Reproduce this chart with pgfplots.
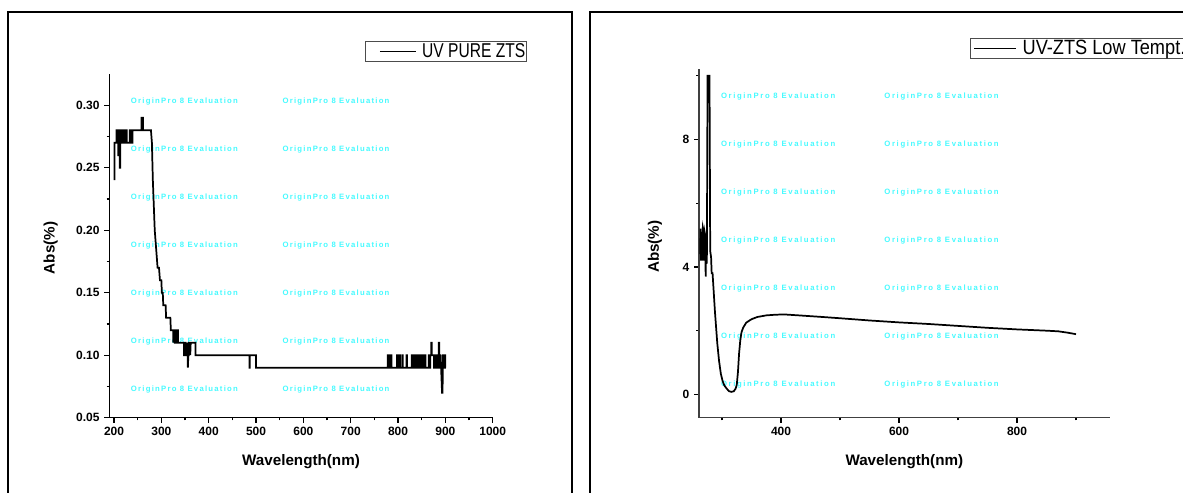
\documentclass[border=0pt]{standalone}
\usepackage{pgfplots}
\pgfplotsset{compat=1.18}
\usepackage{fontspec}
\setmainfont{Liberation Sans}
\newfontfamily\wmA[LetterSpace=16]{Liberation Sans}
\newfontfamily\wmB[LetterSpace=21]{Liberation Sans}
\newfontfamily\legA[FakeStretch=0.78]{Liberation Sans}
\newfontfamily\legB[FakeStretch=0.88]{Liberation Sans}
\definecolor{wm}{RGB}{70,250,255}

\pgfplotsset{origin/.style={
  scale only axis, axis lines=left, axis line style={-, line width=1.1pt},
  tick align=outside, major tick length=3.75pt, minor tick length=2pt,
  tick style={line width=0.9pt, black},
  tick label style={font=\bfseries\fontsize{9}{10}\selectfont},
  /pgf/number format/assume math mode=true,
  /pgf/number format/1000 sep={},
  label style={font=\bfseries\fontsize{11.4}{13}\selectfont},
  legend style={draw=black!70, line width=0.7pt, inner xsep=0pt, inner ysep=0.5pt,
    nodes={inner sep=1pt}, column sep=3pt},
  legend cell align=left,
}}

\begin{document}
\begin{tikzpicture}[x=0.75pt,y=0.75pt]
\useasboundingbox (0,0) rectangle (1183,493);
\clip (0,0) rectangle (1183,493);
\coordinate (L) at (109.3,75.3);
\coordinate (R) at (699,75.3);
% panel frames
\draw[line width=1.5pt] (7.5,-20) rectangle (572.3,481);
\draw[line width=1.5pt] (590,-20) rectangle (1220,481);
% evaluation watermarks
\foreach \r in {0,...,6} {
  \foreach \c in {130.7,282.3}
    \node[anchor=west, inner sep=0, text=wm, font=\wmA\bfseries\fontsize{5.8}{6}\selectfont]
      at (\c, 493-101.7-48*\r) {OriginPro 8 Evaluation};
  \foreach \c in {720.8,884.2}
    \node[anchor=west, inner sep=0, text=wm, font=\wmB\bfseries\fontsize{5.8}{6}\selectfont]
      at (\c, 493-96.7-48*\r) {OriginPro 8 Evaluation};
}

% left panel
\begin{axis}[origin, at={(L)}, anchor=south west,
  width=287.55pt, height=257.8pt,
  xmin=190, xmax=1000, ymin=0.05, ymax=0.325,
  xtick={200,300,...,1000}, minor x tick num=1,
  ytick={0.05,0.10,0.15,0.20,0.25,0.30}, minor y tick num=1,
  yticklabel style={/pgf/number format/.cd, fixed, fixed zerofill, precision=2},
  xlabel={Wavelength(nm)}, ylabel={Abs(\%)},
  xlabel style={at={(axis description cs:0.5,-0.128)}, anchor=center},
  ylabel style={at={(axis description cs:-0.1526,0.494)}, anchor=center},
  legend style={at={(axis description cs:0.666,1.096)}, anchor=north west,
    font=\legA\fontsize{15}{16}\selectfont},
  legend image code/.code={\path (0pt,0pt); \draw[#1] (10.5pt,0pt) -- (37.5pt,0pt);},
]
\addplot[black, line width=1.3pt] coordinates {
(201,0.24) (201,0.27) (205,0.27) (205,0.28) (206,0.28) (206,0.27) (208,0.27) (208,0.28)
(209,0.28) (209,0.26) (210,0.26) (210,0.28) (211,0.28) (211,0.26) (212,0.26) (212,0.25)
(213,0.25) (213,0.28) (214,0.28) (214,0.27) (218,0.27) (218,0.28) (219,0.28) (219,0.27)
(222,0.27) (222,0.28) (223,0.28) (223,0.27) (226,0.27) (226,0.28) (227,0.28) (227,0.27)
(233,0.27) (233,0.28) (234,0.28) (234,0.27) (235,0.27) (235,0.28) (236,0.28) (236,0.27)
(237,0.27) (237,0.28) (238,0.28) (238,0.27) (239,0.27) (239,0.28) (258,0.28) (258,0.29)
(261,0.29) (261,0.28) (278,0.28) (280,0.27) (282,0.24) (284,0.22) (286,0.20) (288,0.19)
(290,0.18) (292,0.17) (295,0.17) (297,0.16) (300,0.16) (301,0.15) (303,0.15) (304,0.14)
(309,0.14) (310,0.13) (319,0.13) (320,0.12) (325,0.12) (325,0.11) (326,0.12) (328,0.12)
(328,0.11) (330,0.11) (330,0.12) (332,0.12) (332,0.11) (334,0.11) (334,0.12) (335,0.12)
(335,0.11) (348,0.11) (348,0.10) (350,0.10) (350,0.11) (351,0.11) (351,0.10) (354,0.10)
(355,0.11) (356,0.09) (357,0.10) (358,0.10) (358,0.11) (360,0.11) (361,0.10) (362,0.11)
(372,0.11) (372,0.10) (486,0.10) (486,0.09) (487,0.09) (487,0.10) (500,0.10) (500,0.09)
(778,0.09) (778,0.10) (780,0.10) (780,0.09) (781,0.09) (781,0.10) (783,0.10) (783,0.09)
(784,0.09) (784,0.10) (786,0.10) (786,0.09) (798,0.09) (798,0.10) (799,0.10) (799,0.09)
(803,0.09) (803,0.10) (804,0.10) (804,0.09) (809,0.09) (809,0.10) (810,0.10) (810,0.09)
(818,0.09) (818,0.10) (819,0.10) (819,0.09) (829,0.09) (829,0.10) (830,0.10) (830,0.09)
(833,0.09) (833,0.10) (834,0.10) (834,0.09) (837,0.09) (837,0.10) (838,0.10) (838,0.09)
(840,0.09) (840,0.10) (842,0.10) (842,0.09) (844,0.09) (844,0.10) (845,0.10) (845,0.09)
(847,0.09) (847,0.10) (848,0.10) (848,0.09) (850,0.09) (850,0.10) (852,0.10) (852,0.09)
(854,0.09) (854,0.10) (855,0.10) (855,0.09) (857,0.09) (857,0.10) (858,0.10) (858,0.09)
(865,0.09) (865,0.10) (866,0.10) (866,0.09) (868,0.09) (868,0.10) (870,0.10) (870,0.11)
(871,0.11) (871,0.10) (876,0.10) (876,0.09) (878,0.09) (878,0.10) (880,0.10) (880,0.09)
(881,0.09) (881,0.10) (884,0.10) (884,0.09) (885,0.09) (885,0.10) (886,0.10) (886,0.11)
(887,0.11) (887,0.09) (889,0.09) (889,0.10) (890,0.10) (891,0.09) (893,0.07) (894,0.07)
(895,0.10) (896,0.10) (896,0.09) (897,0.09) (897,0.10) (898,0.10) (898,0.09) (899,0.09)
(899,0.10) (900,0.10) (900,0.09)
};
\addlegendentry{UV PURE ZTS}
\end{axis}

% right panel
\begin{axis}[origin, at={(R)}, anchor=south west,
  width=308pt, height=261.3pt,
  axis line style={-, line width=1.1pt, black!75},
  xmin=261, xmax=957, ymin=-0.73, ymax=10.2,
  xtick={400,600,800}, minor xtick={300,500,700,900},
  ytick={0,4,8}, minor ytick={2,6,10},
  xlabel={Wavelength(nm)}, ylabel={Abs(\%)},
  xlabel style={at={(axis description cs:0.5,-0.1263)}, anchor=center},
  ylabel style={at={(axis description cs:-0.107,0.491)}, anchor=center},
  legend style={at={(axis description cs:0.661,1.0907)}, anchor=north west,
    font=\legB\fontsize{15.5}{16}\selectfont},
  legend image code/.code={\path (0pt,0pt); \draw[#1] (2pt,0pt) -- (33.5pt,0pt);},
]
\addplot[black, line width=1.3pt] coordinates {
(263,4.4) (263.5,5.2) (264.5,4.2) (265.5,5.1) (266.5,4.2) (267.5,5.2) (268.5,5.1)
(269.5,4.2) (270.5,5.1) (271.5,5.0) (272.3,3.7) (273.3,5.0) (274.3,4.1) (275.5,10.0)
(278.8,10.0) (280,4.5) (281.5,4.3) (282.5,3.8) (284,3.8) (286,3.2) (288,2.6) (290,2.1)
(292,1.6) (295,1.05) (298,0.65) (301,0.42) (304,0.28) (308,0.18) (312,0.10) (316,0.08)
(320,0.10) (323,0.18) (325,0.30) (327,0.70) (329,1.30) (331,1.70) (333,1.95) (336,2.10)
(341,2.25) (350,2.36) (360,2.43) (375,2.48) (390,2.50) (405,2.51) (430,2.48) (470,2.43)
(500,2.39) (550,2.32) (600,2.26) (650,2.21) (700,2.15) (750,2.09) (800,2.04) (850,2.00)
(870,1.98) (885,1.94) (900,1.89)
};
\addlegendentry{UV-ZTS Low Tempt.}
\end{axis}
\end{tikzpicture}
\end{document}
